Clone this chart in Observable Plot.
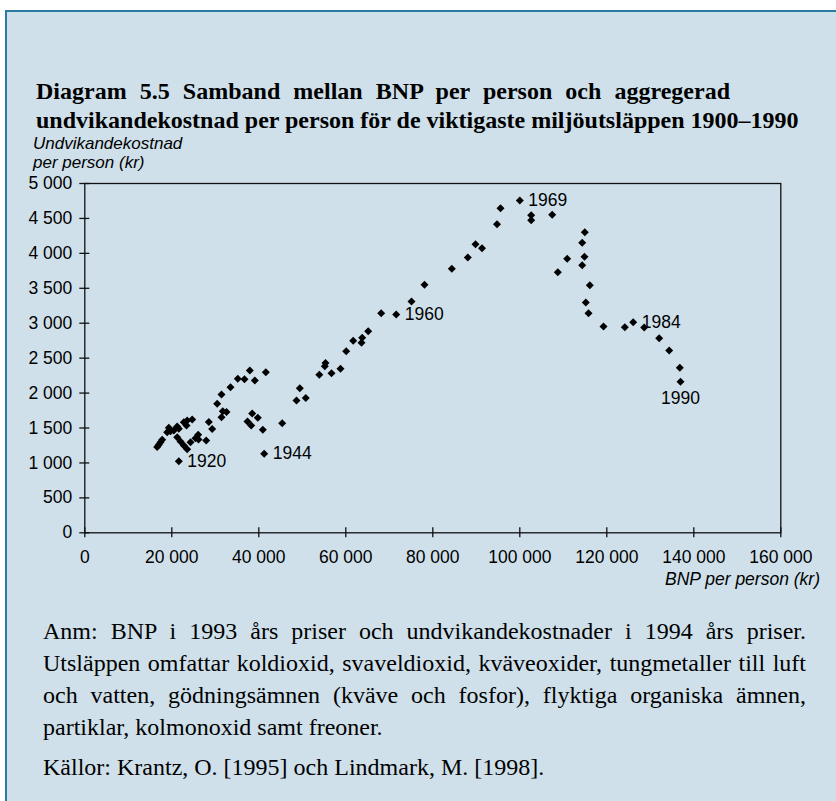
<!DOCTYPE html>
<html><head><meta charset="utf-8">
<script src="https://cdn.jsdelivr.net/npm/d3@7"></script>
<script src="https://cdn.jsdelivr.net/npm/@observablehq/plot@0.6"></script>
<style>
html,body{margin:0;padding:0;background:#fff;overflow:hidden;width:836px;height:801px;position:relative;}
#panel{position:absolute;left:5px;top:10px;width:900px;height:900px;background:#cfe0eb;border-top:2px solid #2a7aa2;border-left:2px solid #2a7aa2;}
.serif{font-family:"Liberation Serif","Times New Roman",Times,serif;color:#000;}
.sans{font-family:"Liberation Sans",Arial,Helvetica,sans-serif;color:#000;}
#title{position:absolute;left:36px;top:77px;font-size:24px;font-weight:bold;line-height:28.5px;white-space:nowrap;}
#title .t1{width:694px;text-align:justify;text-align-last:justify;}
#ytitle{position:absolute;left:33px;top:133.5px;font-size:17px;font-style:italic;line-height:19px;white-space:nowrap;}
#xtitle{position:absolute;right:16px;top:569px;font-size:17.5px;font-style:italic;line-height:20px;white-space:nowrap;}
#chart{position:absolute;left:0;top:130px;}
#notes{position:absolute;left:43px;top:615px;width:763px;font-size:24px;}
#notes .l{height:32px;line-height:32px;text-align:justify;text-align-last:justify;white-space:nowrap;}
#notes .last{text-align:left;text-align-last:left;}
#notes .src{margin-top:8px;}
</style></head>
<body>
<div id="panel"></div>
<div id="title" class="serif"></div>
<div id="ytitle" class="sans"></div>
<div id="chart"></div>
<div id="xtitle" class="sans"></div>
<div id="notes" class="serif"></div>
<script>
// ---- data ----
const titleLines = [
  "Diagram 5.5 Samband mellan BNP per person och aggregerad",
  "undvikandekostnad per person för de viktigaste miljöutsläppen 1900–1990"
];
const yTitleLines = ["Undvikandekostnad", "per person (kr)"];
const xTitle = "BNP per person (kr)";
const noteLines = [
  "Anm: BNP i 1993 års priser och undvikandekostnader i 1994 års priser.",
  "Utsläppen omfattar koldioxid, svaveldioxid, kväveoxider, tungmetaller till luft",
  "och vatten, gödningsämnen (kväve och fosfor), flyktiga organiska ämnen,",
  "partiklar, kolmonoxid samt freoner."
];
const sourceLine = "Källor: Krantz, O. [1995] och Lindmark, M. [1998].";

const xTicks = [0, 20000, 40000, 60000, 80000, 100000, 120000, 140000, 160000];
const yTicks = [0, 500, 1000, 1500, 2000, 2500, 3000, 3500, 4000, 4500, 5000];

const bnp = [16640,17010,17400,17790,18940,19310,19700,20460,21240,21610,22760,23380,23540,24690,
  21240,22000,22760,23540,24300,25450,26070,26140,27910,21610,28510,29290,30440,31430,31430,31720,
  32570,33490,35170,36710,37930,39080,41610,37400,38250,38480,39770,40920,45380,41240,48670,49430,
  50800,53910,55170,55330,56710,58780,60090,61700,63610,63770,65150,68140,71590,75100,78090,84370,
  88050,89820,91310,94760,95560,100000,102620,102620,107450,108740,110900,114340,114870,114340,
  114940,116090,115170,115790,119240,124140,126070,128600,132050,134340,136780,136940];
const cost = [1228,1260,1297,1331,1440,1503,1454,1464,1522,1489,1583,1536,1607,1622,
  1368,1307,1250,1197,1297,1354,1403,1336,1321,1025,1586,1486,1847,1980,1655,1741,
  1729,2084,2204,2199,2323,2180,2299,1593,1536,1708,1646,1474,1569,1131,1894,2070,
  1930,2263,2385,2431,2285,2348,2600,2748,2720,2791,2886,3143,3125,3311,3550,3779,
  3941,4131,4074,4417,4646,4757,4546,4475,4552,3730,3922,3830,3951,4151,
  4303,3544,3297,3143,2953,2943,3015,2939,2786,2610,2362,2161];

const labelYear = ["1920", "1944", "1960", "1969", "1984", "1990"];
const labelBnp  = [21610, 41240, 71590, 100000, 126070, 136940];
const labelCost = [1025, 1131, 3125, 4757, 3015, 2161];

// ---- text blocks ----
document.getElementById("title").innerHTML = titleLines.map((t, i) => `<div class="t${i + 1}">${t}</div>`).join("");
document.getElementById("ytitle").innerHTML = yTitleLines.map(t => `<div>${t}</div>`).join("");
document.getElementById("xtitle").textContent = xTitle;
document.getElementById("notes").innerHTML =
  noteLines.map((t, i) => `<div class="l${i === noteLines.length - 1 ? " last" : ""}">${t}</div>`).join("") +
  `<div class="l last src">${sourceLine}</div>`;

// ---- chart ----
const points = bnp.map((x, i) => ({x, y: cost[i]}));
const labels = labelYear.map((t, i) => ({t, x: labelBnp[i], y: labelCost[i]}));
const fmt = d3.formatLocale({decimal: ",", thousands: "\u00a0", grouping: [3]}).format(",");

const chart = Plot.plot({
  width: 836,
  height: 470,
  marginTop: 53,
  marginBottom: 67.7,
  marginLeft: 84.3,
  marginRight: 55.7,
  style: {background: "transparent", fontFamily: "'Liberation Sans', Arial, sans-serif", fontSize: "17.5px", color: "#000"},
  x: {domain: [0, 160000]},
  y: {domain: [0, 5000]},
  marks: [
    Plot.frame({stroke: "#111", strokeWidth: 1.3}),
    Plot.axisX({ticks: xTicks, tickSize: 10, dy: -5, tickPadding: 13, tickFormat: fmt, stroke: "#111", strokeWidth: 1.3, label: null}),
    Plot.axisY({ticks: yTicks, tickSize: 10, dx: 5, tickPadding: 7.6, tickFormat: fmt, stroke: "#111", strokeWidth: 1.3, label: null}),
    Plot.dot(points, {x: "x", y: "y", symbol: "diamond2", r: 3.6, fill: "#000", stroke: "none"}),
    Plot.text(labels.filter(d => d.t !== "1990"), {x: "x", y: "y", text: "t", dx: 8.5, textAnchor: "start", fill: "#000"}),
    Plot.text(labels.filter(d => d.t === "1990"), {x: "x", y: "y", text: "t", dy: 17, textAnchor: "middle", fill: "#000"})
  ]
});
document.getElementById("chart").appendChild(chart);
</script>
</body></html>
